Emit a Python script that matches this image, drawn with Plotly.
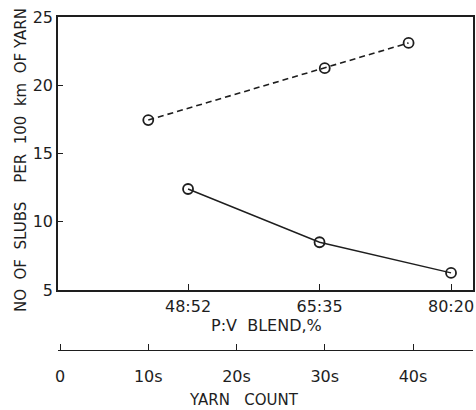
import plotly.graph_objects as go

# Data
blend_labels = ["48:52", "65:35", "80:20"]
blend_pos = [1, 2, 3]
slubs_blend = [12.4, 8.5, 6.25]

yarn_counts = [10, 30, 39.5]
slubs_yarn = [17.45, 21.25, 23.1]

yarn_tickvals = [0, 10, 20, 30, 40]
yarn_ticktext = ["0", "10s", "20s", "30s", "40s"]
y_ticks = [5, 10, 15, 20, 25]

FONT = "DejaVu Sans"
fs = 16
nb = "\u00a0"
INK = "#1e1e1e"

fig = go.Figure()
fig.add_trace(go.Scatter(
    x=blend_pos, y=slubs_blend, mode="lines+markers",
    line=dict(color=INK, width=1.4),
    marker=dict(symbol="circle-open", size=10, color=INK, line=dict(width=1.8)),
    xaxis="x", yaxis="y", showlegend=False))
fig.add_trace(go.Scatter(
    x=yarn_counts, y=slubs_yarn, mode="lines+markers",
    line=dict(color=INK, width=1.6, dash="6px,4px"),
    marker=dict(symbol="circle-open", size=10, color=INK, line=dict(width=1.8)),
    xaxis="x2", yaxis="y", showlegend=False))

L, R, T, B = 58, 3, 17, 60
plot_w = 476 - L - R
plot_h = 410 - T - B
ydom0 = (350 - 290) / plot_h

def px(x):
    return (x - L) / plot_w

def py(y):
    return (410 - B - y) / plot_h

fig.update_layout(
    width=476, height=410,
    margin=dict(l=L, r=R, t=T, b=B),
    paper_bgcolor="white", plot_bgcolor="white",
    font=dict(family=FONT, size=fs, color=INK),
    xaxis=dict(range=[0.011, 3.167], tickvals=blend_pos, ticktext=blend_labels,
               ticks="inside", ticklen=6, tickwidth=1.4, tickcolor=INK,
               showline=True, linecolor=INK, linewidth=1.6, mirror=True,
               showgrid=False, zeroline=False, anchor="y", automargin=False,
               ticklabelstandoff=1, tickfont=dict(size=fs)),
    xaxis2=dict(range=[-0.23, 46.8], tickvals=yarn_tickvals, ticktext=yarn_ticktext,
                overlaying="x", anchor="free", position=0, side="bottom",
                ticks="inside", ticklen=6, tickwidth=1.4, tickcolor=INK,
                showline=True, linecolor=INK, linewidth=1.4, automargin=False,
                showgrid=False, zeroline=False,
                ticklabelstandoff=12, tickfont=dict(size=fs)),
    yaxis=dict(domain=[ydom0, 1], range=[5, 25], tickvals=y_ticks,
               ticks="inside", ticklen=5, tickwidth=1.4, tickcolor=INK,
               showline=True, linecolor=INK, linewidth=1.6, mirror=True,
               showgrid=False, zeroline=False, ticklabelstandoff=0,
               automargin=False, tickfont=dict(size=fs)),
    annotations=[
        dict(text="P:V" + nb + nb + "BLEND,%", x=px(266), y=py(325),
             xref="paper", yref="paper", showarrow=False,
             xanchor="center", yanchor="middle", font=dict(size=16)),
        dict(text="YARN" + nb + nb + nb + "COUNT", x=px(244), y=py(400),
             xref="paper", yref="paper", showarrow=False,
             xanchor="center", yanchor="middle", font=dict(size=15)),
        dict(text=("NO" + nb + nb + "OF" + nb + nb + "SLUBS" + nb * 4 + "PER" + nb + nb + "100"
                   + nb + nb + "km" + nb + nb + "OF" + nb + "YARN"),
             x=px(21), y=py(160), textangle=-90,
             xref="paper", yref="paper", showarrow=False,
             xanchor="center", yanchor="middle", font=dict(size=15)),
    ],
)

fig.write_html(
    "out.html",
    config={"displayModeBar": False},
    post_script="document.body.style.margin='0';document.body.style.overflow='hidden';",
)
